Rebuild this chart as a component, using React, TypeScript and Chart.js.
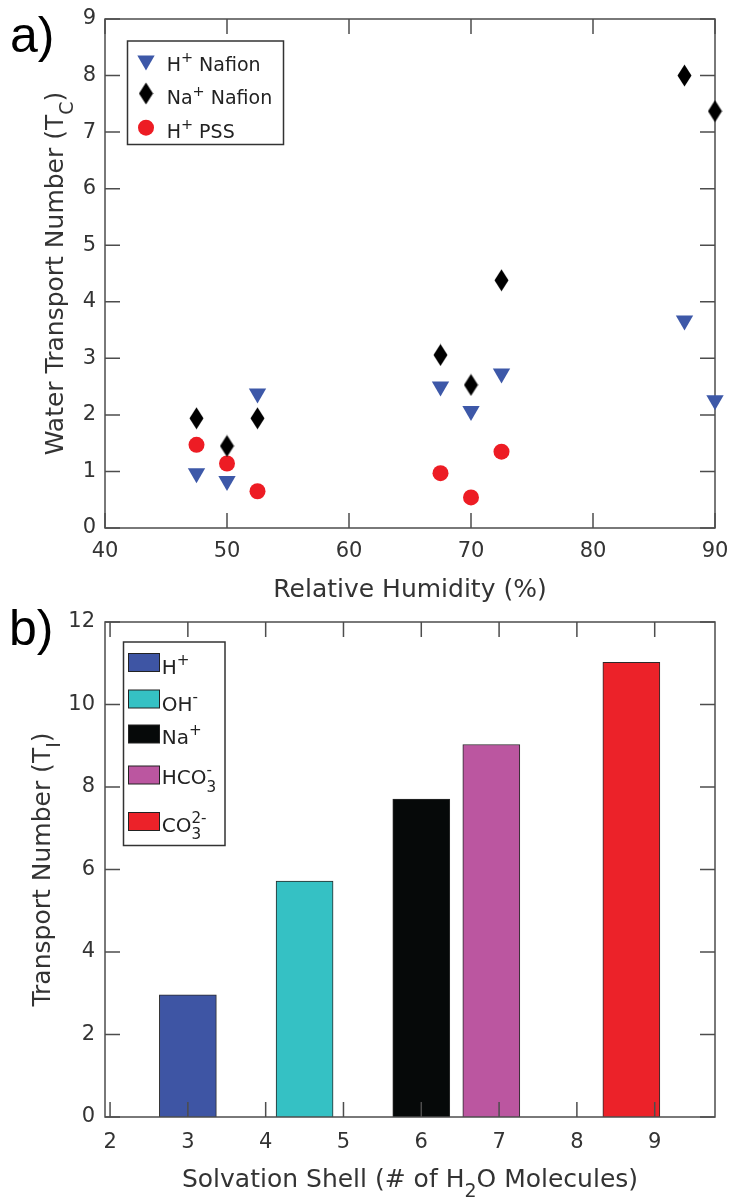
import React, { useEffect, useRef } from 'react';
import { Chart, registerables } from 'chart.js';

Chart.register(...registerables);

// ---------- Panel a) data ----------
const humidityNafion = [47.5, 50, 52.5, 67.5, 70, 72.5, 87.5, 90];
const tcHNafion = [0.97, 0.83, 2.38, 2.5, 2.07, 2.73, 3.67, 2.26];
const tcNaNafion = [1.94, 1.45, 1.94, 3.06, 2.53, 4.38, 8.0, 7.37];
const humidityPSS = [47.5, 50, 52.5, 67.5, 70, 72.5];
const tcHPSS = [1.47, 1.14, 0.65, 0.97, 0.54, 1.35];
const seriesLabelsA = ['H^{+} Nafion', 'Na^{+} Nafion', 'H^{+} PSS'];
const xTicksA = [40, 50, 60, 70, 80, 90];
const yTicksA = [0, 1, 2, 3, 4, 5, 6, 7, 8, 9];
const xTitleA = 'Relative Humidity (%)';
const yTitleA = 'Water Transport Number (T_{C})';

// ---------- Panel b) data ----------
const ionLabels = ['H^{+}', 'OH^{-}', 'Na^{+}', 'HCO_{3}^{-}', 'CO_{3}^{2-}'];
const solvationShell = [3, 4.5, 6, 6.9, 8.7];
const transportNumber = [2.96, 5.72, 7.71, 9.03, 11.02];
const xTicksB = [2, 3, 4, 5, 6, 7, 8, 9];
const yTicksB = [0, 2, 4, 6, 8, 10, 12];
const xTitleB = 'Solvation Shell (# of H_{2}O Molecules)';
const yTitleB = 'Transport Number (T_{I})';

// ---------- styles ----------
const BLUE = '#3d58a8';
const RED = '#ed1c24';
const BLACK = '#000000';
const ionColors = ['#3e55a4', '#35c1c4', '#060909', '#bb56a0', '#ec2229'];
const FONT = "'DejaVu Sans', 'Liberation Sans', Arial, sans-serif";
const PANEL_FONT = "'Liberation Sans', Arial, sans-serif";
const TEXT = '#333333';
const AXIS = '#4d4d4d';

type Run = { base: string; sub?: string; sup?: string };
function parseRich(s: string): Run[] {
  const runs: Run[] = [];
  const parts = s.split(/(_\{[^}]*\}|\^\{[^}]*\})/);
  let cur: Run = { base: '' };
  for (const p of parts) {
    if (!p) continue;
    if (p.startsWith('_{')) cur.sub = p.slice(2, -1);
    else if (p.startsWith('^{')) cur.sup = p.slice(2, -1);
    else {
      if (cur.base || cur.sub || cur.sup) runs.push(cur);
      cur = { base: p };
    }
  }
  runs.push(cur);
  return runs;
}
const SCRIPT = 0.76;
function richWidth(ctx: CanvasRenderingContext2D, runs: Run[], size: number, family: string) {
  let w = 0;
  for (const r of runs) {
    ctx.font = `${size}px ${family}`;
    w += ctx.measureText(r.base).width;
    if (r.sub || r.sup) {
      ctx.font = `${size * SCRIPT}px ${family}`;
      w += Math.max(r.sub ? ctx.measureText(r.sub).width : 0, r.sup ? ctx.measureText(r.sup).width : 0);
    }
  }
  return w;
}
function drawRich(
  ctx: CanvasRenderingContext2D, text: string, x: number, y: number,
  size: number, family: string, color: string, align: 'left' | 'center'
) {
  const runs = parseRich(text);
  const w = richWidth(ctx, runs, size, family);
  let cx = align === 'center' ? x - w / 2 : x;
  ctx.fillStyle = color;
  ctx.textAlign = 'left';
  ctx.textBaseline = 'alphabetic';
  for (const r of runs) {
    ctx.font = `${size}px ${family}`;
    ctx.fillText(r.base, cx, y);
    cx += ctx.measureText(r.base).width;
    if (r.sub || r.sup) {
      ctx.font = `${size * SCRIPT}px ${family}`;
      let sw = 0;
      if (r.sup) { ctx.fillText(r.sup, cx, y - size * 0.45); sw = Math.max(sw, ctx.measureText(r.sup).width); }
      if (r.sub) { ctx.fillText(r.sub, cx, y + size * 0.38); sw = Math.max(sw, ctx.measureText(r.sub).width); }
      cx += sw;
    }
  }
}

function drawFrame(chart: any, opts: any) {
  const { ctx, chartArea: a, scales } = chart;
  ctx.save();
  ctx.strokeStyle = opts.color;
  ctx.lineWidth = opts.lineWidth;
  ctx.strokeRect(a.left, a.top, a.right - a.left, a.bottom - a.top);
  const L = opts.tickLength;
  ctx.beginPath();
  for (const t of scales.x.ticks) {
    const px = scales.x.getPixelForValue(t.value);
    ctx.moveTo(px, a.bottom); ctx.lineTo(px, a.bottom - L);
    ctx.moveTo(px, a.top); ctx.lineTo(px, a.top + L);
  }
  for (const t of scales.y.ticks) {
    const py = scales.y.getPixelForValue(t.value);
    ctx.moveTo(a.left, py); ctx.lineTo(a.left + L, py);
    ctx.moveTo(a.right, py); ctx.lineTo(a.right - L, py);
  }
  ctx.stroke();
  ctx.restore();
}
const framePlugin = {
  id: 'frame',
  beforeDatasetsDraw(chart: any, _a: any, opts: any) { if (!opts.onTop) drawFrame(chart, opts); },
  afterDatasetsDraw(chart: any, _a: any, opts: any) { if (opts.onTop) drawFrame(chart, opts); },
};

const titlesPlugin = {
  id: 'titles',
  afterDraw(chart: any, _a: any, o: any) {
    const { ctx, chartArea: a } = chart;
    ctx.save();
    drawRich(ctx, o.xText, (a.left + a.right) / 2, o.xBaseline, o.size, FONT, TEXT, 'center');
    ctx.translate(o.yBaseline, (a.top + a.bottom) / 2);
    ctx.rotate(-Math.PI / 2);
    drawRich(ctx, o.yText, 0, 0, o.size, FONT, TEXT, 'center');
    ctx.restore();
    ctx.save();
    ctx.font = `${o.panelSize}px ${PANEL_FONT}`;
    ctx.fillStyle = '#000';
    ctx.textAlign = 'left';
    ctx.textBaseline = 'alphabetic';
    ctx.fillText(o.panelText, o.panelX, o.panelY);
    ctx.restore();
  },
};

function makeDiamond(color: string) {
  const c = document.createElement('canvas');
  c.width = 15; c.height = 23;
  const g = c.getContext('2d')!;
  g.fillStyle = color;
  g.beginPath();
  g.moveTo(7.5, 0.5); g.lineTo(14.5, 11.5); g.lineTo(7.5, 22.5); g.lineTo(0.5, 11.5);
  g.closePath(); g.fill();
  return c;
}

const legendPlugin = {
  id: 'boxLegend',
  afterDraw(chart: any, _a: any, o: any) {
    const { ctx } = chart;
    ctx.save();
    ctx.fillStyle = '#ffffff';
    ctx.fillRect(o.box.x, o.box.y, o.box.w, o.box.h);
    ctx.strokeStyle = '#333';
    ctx.lineWidth = 1.5;
    ctx.strokeRect(o.box.x, o.box.y, o.box.w, o.box.h);
    for (const it of o.items) {
      ctx.fillStyle = it.color;
      if (it.kind === 'triangle') {
        const r = it.r;
        ctx.beginPath();
        ctx.moveTo(it.mx - r * Math.sqrt(3) / 2, it.my - r / 2);
        ctx.lineTo(it.mx + r * Math.sqrt(3) / 2, it.my - r / 2);
        ctx.lineTo(it.mx, it.my + r);
        ctx.closePath(); ctx.fill();
      } else if (it.kind === 'diamond') {
        const img = it.img;
        ctx.drawImage(img, it.mx - img.width / 2, it.my - img.height / 2);
      } else if (it.kind === 'circle') {
        ctx.beginPath(); ctx.arc(it.mx, it.my, it.r, 0, Math.PI * 2); ctx.fill();
      } else if (it.kind === 'rect') {
        ctx.fillRect(it.mx, it.my - it.h / 2, it.w, it.h);
        ctx.strokeStyle = '#222'; ctx.lineWidth = 1;
        ctx.strokeRect(it.mx, it.my - it.h / 2, it.w, it.h);
      }
      drawRich(ctx, it.label, it.tx, it.ty, o.fontSize, FONT, '#222', 'left');
    }
    ctx.restore();
  },
};

const H_A = 612;
const H_B = 602;
const TOP_B = 595;

const noPad = (s: any) => {
  s.paddingLeft = 0; s.paddingRight = 0; s.paddingTop = 0; s.paddingBottom = 0;
};

export default function App() {
  const refA = useRef<HTMLCanvasElement>(null);
  const refB = useRef<HTMLCanvasElement>(null);

  useEffect(() => {
    const diamond = makeDiamond(BLACK);
    const tickFont = { family: FONT, size: 21 };
    const chartA = new Chart(refA.current!, {
      type: 'scatter',
      data: {
        datasets: [
          {
            label: seriesLabelsA[0],
            data: humidityNafion.map((x, i) => ({ x, y: tcHNafion[i] })),
            pointStyle: 'triangle', pointRotation: 180, pointRadius: 10,
            pointBackgroundColor: BLUE, pointBorderWidth: 0, clip: false,
          } as any,
          {
            label: seriesLabelsA[1],
            data: humidityNafion.map((x, i) => ({ x, y: tcNaNafion[i] })),
            pointStyle: diamond, pointRadius: 11,
            pointBackgroundColor: BLACK, pointBorderWidth: 0, clip: false,
          } as any,
          {
            label: seriesLabelsA[2],
            data: humidityPSS.map((x, i) => ({ x, y: tcHPSS[i] })),
            pointStyle: 'circle', pointRadius: 8,
            pointBackgroundColor: RED, pointBorderWidth: 0, clip: false,
          } as any,
        ],
      },
      options: {
        animation: false, responsive: false, devicePixelRatio: 1, events: [],
        layout: { padding: { top: 19, right: 17, left: 0, bottom: 0 } },
        scales: {
          x: {
            type: 'linear', min: 40, max: 90,
            afterBuildTicks: (s: any) => { s.ticks = xTicksA.map((v) => ({ value: v })); },
            afterFit: (s: any) => { s.height = H_A - 528; noPad(s); },
            ticks: { font: tickFont, color: TEXT, padding: 11, callback: (v: any) => String(v) },
            grid: { display: false, drawTicks: false }, border: { display: false },
          },
          y: {
            type: 'linear', min: 0, max: 9,
            afterBuildTicks: (s: any) => { s.ticks = yTicksA.map((v) => ({ value: v })); },
            afterFit: (s: any) => { s.width = 105; noPad(s); },
            ticks: { font: tickFont, color: TEXT, padding: 9, callback: (v: any) => String(v) },
            grid: { display: false, drawTicks: false }, border: { display: false },
          },
        },
        plugins: {
          legend: { display: false },
          tooltip: { enabled: false },
          frame: { onTop: false, color: AXIS, lineWidth: 1.5, tickLength: 15 },
          titles: {
            xText: xTitleA, xBaseline: 597, yText: yTitleA, yBaseline: 63, size: 25,
            panelText: 'a)', panelX: 10, panelY: 52, panelSize: 50,
          },
          boxLegend: {
            box: { x: 127.5, y: 41, w: 156, h: 103.5 },
            fontSize: 19,
            items: [
              { kind: 'triangle', color: BLUE, r: 10, mx: 146, my: 60.5, tx: 166.7, ty: 71, label: seriesLabelsA[0] },
              { kind: 'diamond', color: BLACK, img: diamond, mx: 146, my: 93.5, tx: 166.7, ty: 104.3, label: seriesLabelsA[1] },
              { kind: 'circle', color: RED, r: 8, mx: 146, my: 127.7, tx: 166.7, ty: 137.7, label: seriesLabelsA[2] },
            ],
          },
        } as any,
      },
      plugins: [framePlugin, titlesPlugin, legendPlugin],
    } as any);

    const chartB = new Chart(refB.current!, {
      type: 'bar',
      data: {
        datasets: [
          {
            label: 'Transport Number',
            data: solvationShell.map((x, i) => ({ x, y: transportNumber[i] })),
            backgroundColor: ionColors,
            borderColor: '#2a2a2a', borderWidth: 1,
            barThickness: 57,
          } as any,
        ],
      },
      options: {
        animation: false, responsive: false, devicePixelRatio: 1, events: [],
        layout: { padding: { top: 622 - TOP_B, right: 17, left: 0, bottom: 0 } },
        scales: {
          x: {
            type: 'linear', min: 1.935, max: 9.775, offset: false,
            afterBuildTicks: (s: any) => { s.ticks = xTicksB.map((v) => ({ value: v })); },
            afterFit: (s: any) => { s.height = H_B - (1117 - TOP_B); noPad(s); },
            ticks: { font: tickFont, color: TEXT, padding: 13, callback: (v: any) => String(v) },
            grid: { display: false, drawTicks: false }, border: { display: false },
          },
          y: {
            type: 'linear', min: 0, max: 12,
            afterBuildTicks: (s: any) => { s.ticks = yTicksB.map((v) => ({ value: v })); },
            afterFit: (s: any) => { s.width = 105; noPad(s); },
            ticks: { font: tickFont, color: TEXT, padding: 10, callback: (v: any) => String(v) },
            grid: { display: false, drawTicks: false }, border: { display: false },
          },
        },
        plugins: {
          legend: { display: false },
          tooltip: { enabled: false },
          frame: { onTop: true, color: AXIS, lineWidth: 1.5, tickLength: 15 },
          titles: {
            xText: xTitleB, xBaseline: 1187 - TOP_B, yText: yTitleB, yBaseline: 50, size: 25,
            panelText: 'b)', panelX: 9, panelY: 645 - TOP_B, panelSize: 50,
          },
          boxLegend: {
            box: { x: 123.5, y: 642 - TOP_B, w: 101.5, h: 203.5 },
            fontSize: 20,
            items: ionLabels.map((label, i) => ({
              kind: 'rect', color: ionColors[i], mx: 128.5, w: 31, h: 18,
              my: [662.5, 699, 734, 775, 821.5][i] - TOP_B,
              tx: 161.7, ty: [674, 711, 744.3, 784, 831.7][i] - TOP_B,
              label,
            })),
          },
        } as any,
      },
      plugins: [framePlugin, titlesPlugin, legendPlugin],
    } as any);

    return () => { chartA.destroy(); chartB.destroy(); };
  }, []);

  return (
    <div style={{ position: 'absolute', left: 0, top: 0, width: 732, height: 1197, background: '#fff' }}>
      <canvas ref={refA} width={732} height={H_A} style={{ position: 'absolute', left: 0, top: 0 }} />
      <canvas ref={refB} width={732} height={H_B} style={{ position: 'absolute', left: 0, top: TOP_B }} />
    </div>
  );
}
